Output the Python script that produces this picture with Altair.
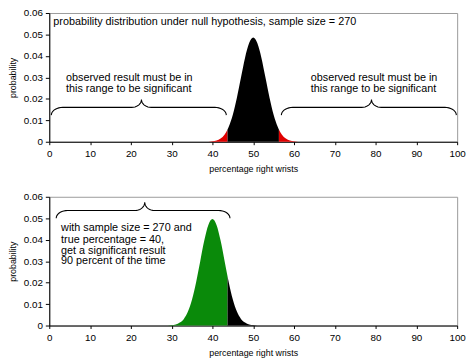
import altair as alt
import numpy as np
import pandas as pd

# ---- data ----
# top panel: null hypothesis (true percentage 50), sample size 270
top_pct = [39, 40, 41, 42, 43, 43.7, 44, 45, 46, 47, 48, 49, 50, 51, 52, 53, 54, 55, 56, 56.3, 57, 58, 59, 60, 61]
top_prob = [0.0000, 0.0002, 0.0006, 0.0015, 0.0034, 0.0057, 0.0070, 0.0126, 0.0205, 0.0299, 0.0392, 0.0460,
            0.0486, 0.0460, 0.0392, 0.0299, 0.0205, 0.0126, 0.0070, 0.0057, 0.0034, 0.0015, 0.0006, 0.0002, 0.0000]
# bottom panel: true percentage 40
bot_pct = [29, 30, 31, 32, 33, 34, 35, 36, 37, 38, 39, 40, 41, 42, 43, 43.7, 44, 45, 46, 47, 48, 49, 50, 51]
bot_prob = [0.0000, 0.0002, 0.0005, 0.0014, 0.0031, 0.0065, 0.0121, 0.0202, 0.0299, 0.0396, 0.0469, 0.0496,
            0.0469, 0.0396, 0.0299, 0.0230, 0.0202, 0.0121, 0.0065, 0.0031, 0.0014, 0.0005, 0.0002, 0.0000]
low_cut = 43.7
high_cut = 56.3

x_ticks = [0, 10, 20, 30, 40, 50, 60, 70, 80, 90, 100]
y_ticks = [0, 0.01, 0.02, 0.03, 0.04, 0.05, 0.06]

top_title = "probability distribution under null hypothesis, sample size = 270"
range_text = ["observed result must be in", "this range to be significant"]
bottom_text = ["with sample size = 270 and", "true percentage = 40,", "get a significant result", "90 percent of the time"]

RED = "#e00000"
GREEN = "#0a8a0a"
FONT = "Liberation Sans"


def segments(xs, ys, cuts, names):
    rows = []
    bounds = [-1e9] + cuts + [1e9]
    for i, name in enumerate(names):
        lo, hi = bounds[i], bounds[i + 1]
        for x, y in zip(xs, ys):
            if lo <= x <= hi:
                rows.append({"x": x, "y": y, "seg": name})
    return pd.DataFrame(rows)


def brace(bid, x0, x1, xm, y_end, y_flat, y_cusp, r_end, r_mid, n=10):
    pts = []
    for t in np.linspace(np.pi, np.pi / 2, n):
        pts.append((x0 + r_end + r_end * np.cos(t), y_end + (y_flat - y_end) * np.sin(t)))
    for t in np.linspace(-np.pi / 2, 0, n):
        pts.append((xm - r_mid + r_mid * np.cos(t), y_cusp + (y_cusp - y_flat) * np.sin(t)))
    for t in np.linspace(np.pi, 1.5 * np.pi, n):
        pts.append((xm + r_mid + r_mid * np.cos(t), y_cusp + (y_cusp - y_flat) * np.sin(t)))
    for t in np.linspace(np.pi / 2, 0, n):
        pts.append((x1 - r_end + r_end * np.cos(t), y_end + (y_flat - y_end) * np.sin(t)))
    return pd.DataFrame([{"x": p[0], "y": p[1], "i": k, "b": bid} for k, p in enumerate(pts)])


xscale = alt.Scale(domain=[0, 100], nice=False, zero=False)
yscale = alt.Scale(domain=[0, 0.06], nice=False)

xaxis = alt.Axis(values=x_ticks, format="d", title="percentage right wrists", labelFlush=False,
                 labelOverlap=False, tickSize=3, labelPadding=4, titlePadding=6)
yaxis = alt.Axis(values=y_ticks, format=".2~f", title="probability", labelFlush=False,
                 labelOverlap=False, tickSize=4, labelPadding=3, titlePadding=6)

X = lambda: alt.X("x:Q", scale=xscale, axis=xaxis)
Y = lambda: alt.Y("y:Q", scale=yscale, axis=yaxis, stack=None)


def dist_layer(df, dom, rng):
    return alt.Chart(df).mark_area(interpolate="monotone").encode(
        x=X(), y=Y(),
        color=alt.Color("seg:N", scale=alt.Scale(domain=dom, range=rng), legend=None),
        detail="seg:N",
    )


def brace_layer(df):
    return alt.Chart(df).mark_line(color="black", strokeWidth=1.1).encode(
        x=X(), y=Y(), detail="b:N", order="i:Q",
    )


def text_layer(df, size=11):
    return alt.Chart(df).mark_text(align="left", baseline="middle", font=FONT, fontSize=size,
                                   color="black").encode(
        x=X(), y=Y(), text="t:N",
    )


top_df = segments(top_pct, top_prob, [low_cut, high_cut], ["lo", "mid", "hi"])
bot_df = segments(bot_pct, bot_prob, [low_cut], ["lo", "hi"])

top_braces = pd.concat([
    brace("a", 0.5, 43.4, 22.6, 0.0124, 0.0160, 0.0197, 2.8, 2.4),
    brace("b", 56.9, 99.8, 79.0, 0.0124, 0.0160, 0.0197, 2.8, 2.4),
])
bot_braces = brace("c", 1.7, 44.3, 23.4, 0.0500, 0.0536, 0.0574, 2.8, 2.4)

top_texts = pd.DataFrame([
    {"x": 1.0, "y": 0.0559, "t": top_title},
    {"x": 4.1, "y": 0.0298, "t": range_text[0]},
    {"x": 4.1, "y": 0.0247, "t": range_text[1]},
    {"x": 64.1, "y": 0.0298, "t": range_text[0]},
    {"x": 64.1, "y": 0.0247, "t": range_text[1]},
])
bot_texts = pd.DataFrame([
    {"x": 2.9, "y": 0.0453, "t": bottom_text[0]},
    {"x": 2.9, "y": 0.0400, "t": bottom_text[1]},
    {"x": 2.9, "y": 0.0349, "t": bottom_text[2]},
    {"x": 2.9, "y": 0.0299, "t": bottom_text[3]},
])

top = alt.layer(
    dist_layer(top_df, ["lo", "mid", "hi"], [RED, "black", RED]),
    brace_layer(top_braces),
    text_layer(top_texts),
).properties(width=415, height=131)

bottom = alt.layer(
    dist_layer(bot_df, ["lo", "hi"], [GREEN, "black"]),
    brace_layer(bot_braces),
    text_layer(bot_texts),
).properties(width=415, height=131)

chart = alt.vconcat(top, bottom, spacing=17).resolve_scale(color="independent").properties(
    padding={"left": 0, "top": -4, "right": 0, "bottom": 0}
).configure_view(
    stroke="#9a9a9a", strokeWidth=1
).configure_axis(
    grid=False, domainColor="black", tickColor="black", labelColor="black", titleColor="black",
    labelFont=FONT, titleFont=FONT, labelFontSize=10, titleFontSize=9, titleFontWeight="normal",
    domainWidth=1, tickWidth=1, labelOverlap=False,
)

chart.save("out.html", embed_options={"renderer": "svg", "actions": False})
